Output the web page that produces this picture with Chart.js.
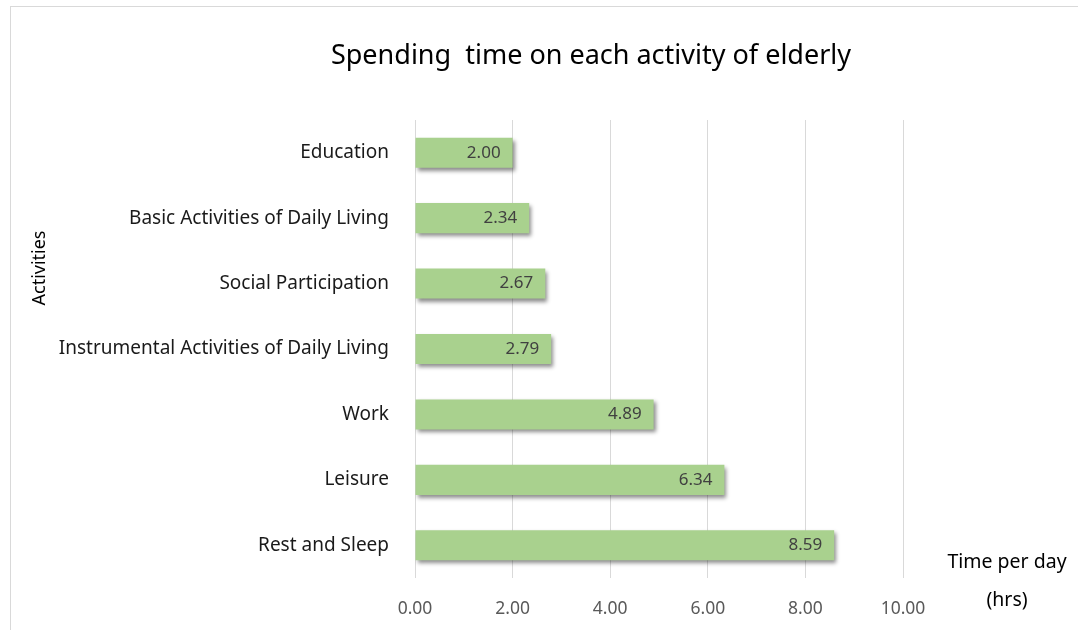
<!DOCTYPE html>
<html>
<head>
<meta charset="utf-8">
<script src="https://cdn.jsdelivr.net/npm/chart.js@4.4.1/dist/chart.umd.min.js"></script>
<style>
  html, body { margin: 0; padding: 0; background: #fff; }
  #wrap { width: 1078px; height: 630px; position: relative; }
</style>
</head>
<body>
<div id="wrap"><canvas id="myChart" width="1078" height="630"></canvas></div>
<script>
var activities = ["Education", "Basic Activities of Daily Living", "Social Participation",
  "Instrumental Activities of Daily Living", "Work", "Leisure", "Rest and Sleep"];
var hours = [2.00, 2.34, 2.67, 2.79, 4.89, 6.34, 8.59];
var xTicks = [0, 2, 4, 6, 8, 10];

var fontName = "'Noto Sans', 'Open Sans', sans-serif";

var extras = {
  id: 'extras',
  beforeDraw: function (chart) {
    var c = chart.ctx;
    c.save();
    c.strokeStyle = '#d9d9d9';
    c.lineWidth = 1;
    c.strokeRect(10.5, 6.5, 1200, 800);
    c.restore();
  },
  beforeDatasetDraw: function (chart) {
    var c = chart.ctx;
    c.save();
    c.shadowColor = 'rgba(0,0,0,0.45)';
    c.shadowBlur = 4;
    c.shadowOffsetX = 2;
    c.shadowOffsetY = 3;
  },
  afterDatasetDraw: function (chart) {
    chart.ctx.restore();
  },
  afterDraw: function (chart) {
    var c = chart.ctx;
    c.save();
    // value labels
    c.fillStyle = '#404040';
    c.font = '17px ' + fontName;
    c.textAlign = 'right';
    c.textBaseline = 'middle';
    chart.getDatasetMeta(0).data.forEach(function (bar, i) {
      c.fillText(hours[i].toFixed(2), bar.x - 12, bar.y);
    });
    // title
    c.fillStyle = '#000';
    c.textAlign = 'center';
    c.font = '27px ' + fontName;
    c.fillText('Spending  time on each activity of elderly', 591, 56);
    // axis titles
    c.font = '19.5px ' + fontName;
    c.fillText('Time per day', 1007, 562);
    c.fillText('(hrs)', 1007, 600);
    c.font = '18px ' + fontName;
    c.translate(40, 268);
    c.rotate(-Math.PI / 2);
    c.fillText('Activities', 0, 0);
    c.restore();
  }
};

new Chart(document.getElementById('myChart'), {
  type: 'bar',
  data: {
    labels: activities,
    datasets: [{
      data: hours,
      backgroundColor: '#a9d18e',
      borderWidth: 0,
      barPercentage: 0.46,
      categoryPercentage: 1
    }]
  },
  plugins: [extras],
  options: {
    indexAxis: 'y',
    responsive: false,
    animation: false,
    layout: { padding: { top: 120, right: 175, left: 0, bottom: 0 } },
    plugins: {
      legend: { display: false },
      tooltip: { enabled: false },
      title: { display: false }
    },
    scales: {
      x: {
        min: 0,
        max: 10,
        afterBuildTicks: function (scale) {
          scale.ticks = xTicks.map(function (v) { return { value: v }; });
        },
        afterFit: function (scale) { scale.height = 52; },
        grid: { color: '#d9d9d9', drawTicks: false },
        border: { display: false },
        ticks: {
          padding: 21,
          color: '#595959',
          font: { family: fontName, size: 17.5 },
          callback: function (v) { return Number(v).toFixed(2); }
        }
      },
      y: {
        afterFit: function (scale) { scale.width = 415; },
        grid: { display: false, drawTicks: false },
        border: { display: false },
        ticks: {
          padding: 26,
          color: '#1a1a1a',
          font: { family: fontName, size: 19 }
        }
      }
    }
  }
});
</script>
</body>
</html>
